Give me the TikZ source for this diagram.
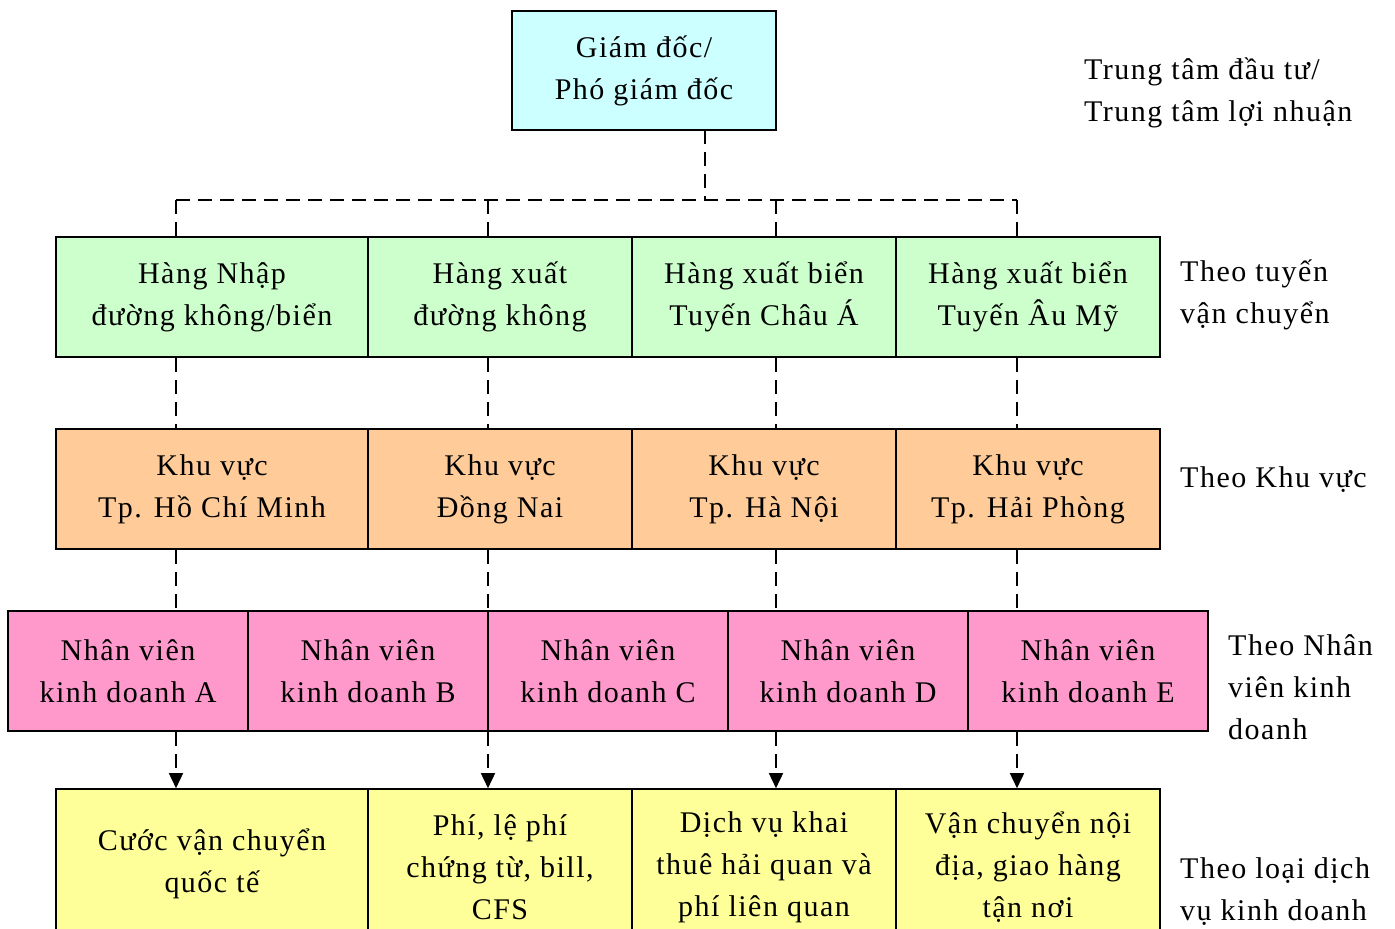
\documentclass[tikz,border=0pt]{standalone}
\usepackage{fontspec}
\setmainfont[LetterSpace=5]{Liberation Serif}
\usetikzlibrary{arrows.meta}
\definecolor{cgd}{HTML}{CCFFFF}
\definecolor{cgreen}{HTML}{CCFFCC}
\definecolor{corange}{HTML}{FFCC99}
\definecolor{cpink}{HTML}{FF99CC}
\definecolor{cyellow}{HTML}{FFFF99}
\tikzset{
  box/.style={draw=black, line width=1.6pt, align=center, inner sep=0pt,
    font=\fontsize{30}{42}\selectfont},
  wbox/.style={box, minimum width=312pt, minimum height=120pt},
  nbox/.style={box, minimum width=264pt, minimum height=120pt},
  pbox/.style={box, minimum width=240pt, minimum height=120pt},
  conn/.style={line width=1.6pt, dash pattern=on 14pt off 8pt},
  arr/.style={conn, -{Triangle[width=14pt,length=15pt]}},
  lbl/.style={anchor=north west, align=left, inner sep=0pt,
    font=\fontsize{30}{42}\selectfont}
}
\begin{document}
\begin{tikzpicture}[x=1pt,y=-1pt]
\useasboundingbox (0,0) rectangle (1395,929);
\clip (0,0) rectangle (1395,929);
% top
\node[box, fill=cgd, minimum width=264pt, minimum height=119pt] (gd) at (644,70.5) {Giám đốc/\\Phó giám đốc};
% row 2
\node[wbox, fill=cgreen] (g1) at (212,297) {Hàng Nhập\\đường không/biển};
\node[nbox, fill=cgreen] (g2) at (500,297) {Hàng xuất\\đường không};
\node[nbox, fill=cgreen] (g3) at (764,297) {Hàng xuất biển\\Tuyến Châu Á};
\node[nbox, fill=cgreen] (g4) at (1028,297) {Hàng xuất biển\\Tuyến Âu Mỹ};
% row 3
\node[wbox, fill=corange] (o1) at (212,489) {Khu vực\\Tp. Hồ Chí Minh};
\node[nbox, fill=corange] (o2) at (500,489) {Khu vực\\Đồng Nai};
\node[nbox, fill=corange] (o3) at (764,489) {Khu vực\\Tp. Hà Nội};
\node[nbox, fill=corange] (o4) at (1028,489) {Khu vực\\Tp. Hải Phòng};
% row 4
\node[pbox, fill=cpink] (p1) at (128,671) {Nhân viên\\kinh doanh A};
\node[pbox, fill=cpink] (p2) at (368,671) {Nhân viên\\kinh doanh B};
\node[pbox, fill=cpink] (p3) at (608,671) {Nhân viên\\kinh doanh C};
\node[pbox, fill=cpink] (p4) at (848,671) {Nhân viên\\kinh doanh D};
\node[pbox, fill=cpink] (p5) at (1088,671) {Nhân viên\\kinh doanh E};
% row 5
\node[box, fill=cyellow, minimum width=312pt, minimum height=150pt] (y1) at (212,864) {Cước vận chuyển\\quốc tế};
\node[box, fill=cyellow, minimum width=264pt, minimum height=156pt] (y2) at (500,867) {Phí, lệ phí\\chứng từ, bill,\\CFS};
\node[box, fill=cyellow, minimum width=264pt, minimum height=156pt] (y3) at (764,867) {Dịch vụ khai\\thuê hải quan và\\phí liên quan};
\node[box, fill=cyellow, minimum width=264pt, minimum height=156pt] (y4) at (1028,867) {Vận chuyển nội\\địa, giao hàng\\tận nơi};
% connector columns
\coordinate (top) at (705,130);
\coordinate (bus) at (705,200);
\coordinate (c1) at (176,200);
\coordinate (c2) at (488,200);
\coordinate (c3) at (776,200);
\coordinate (c4) at (1017,200);
\draw[conn] (top) -- (bus);
\draw[conn] (c1) -- (c4);
\foreach \c/\g/\o/\p/\y in {c1/g1/o1/p1/y1, c2/g2/o2/p2/y2, c3/g3/o3/p4/y3, c4/g4/o4/p5/y4}{
  \draw[conn] (\c) -- (\c |- \g.north);
  \draw[conn] (\c |- \g.south) -- (\c |- \o.north);
  \draw[conn] (\c |- \o.south) -- (\c |- \p.north);
  \draw[arr] (\c |- \p.south) -- (\c |- \y.north);
}
% labels
\node[lbl] (l1) at (1084,58) {Trung tâm đầu tư/\\Trung tâm lợi nhuận};
\node[lbl] (l2) at (1180,260) {Theo tuyến\\vận chuyển};
\node[lbl] (l3) at (1180,466) {Theo Khu vực};
\node[lbl] (l4) at (1228,634) {Theo Nhân\\viên kinh\\doanh};
\node[lbl] (l5) at (1180,857) {Theo loại dịch\\vụ kinh doanh};
\end{tikzpicture}
\end{document}
